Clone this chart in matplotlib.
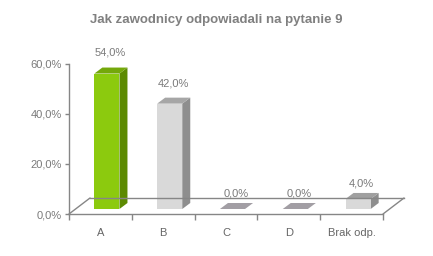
import matplotlib.pyplot as plt
from matplotlib.patches import Polygon
from matplotlib.transforms import Affine2D

plt.rcParams['font.family'] = ['Liberation Sans', 'DejaVu Sans']

categories = ['A', 'B', 'C', 'D', 'Brak odp.']
values = [54.0, 42.0, 0.0, 0.0, 4.0]
value_labels = ['54,0%', '42,0%', '0,0%', '0,0%', '4,0%']
yticks = [0, 20, 40, 60]
ytick_labels = ['0,0%', '20,0%', '40,0%', '60,0%']

# front / side / top colours per bar
face_cols = ['#8cca0e', '#d9d9d9', '#a29ea4', '#a29ea4', '#d9d9d9']
side_cols = ['#5c8a02', '#8e8e8e', '#a29ea4', '#a29ea4', '#8e8e8e']
top_cols = ['#74a80a', '#a6a6a6', '#a29ea4', '#a29ea4', '#a0a0a0']

grey = '#868686'
text_grey = '#7a7a7a'

fig = plt.figure(figsize=(4.33, 2.56), dpi=100)
ax = fig.add_axes([69 / 433, 42 / 256, 314 / 433, 150.5 / 256])
ax.set_xlim(-0.5, 4.5)
ax.set_ylim(0, 60)
ax.patch.set_visible(False)

def shifted(dx, dy):
    return ax.transData + Affine2D().translate(dx, dy)

# floor (3d base)
floor_dx, floor_dy = 21, 16
back = shifted(floor_dx, floor_dy)
ax.plot([-0.5, 4.5], [0, 0], color=grey, lw=1, transform=back, clip_on=False)
for xe in (-0.5, 4.5):
    ax.annotate('', xy=(xe, 0), xycoords=back, xytext=(xe, 0), textcoords='data',
                arrowprops=dict(arrowstyle='-', color=grey, lw=1, shrinkA=0, shrinkB=0))

# bars
half = 0.2
bar_shift = shifted(6.5, 5)
dep_x, dep_y = 8, 6
side_shift = shifted(6.5 + dep_x, 5 + dep_y)
inv = ax.transData.inverted()
for i, v in enumerate(values):
    x0, x1 = i - half, i + half
    f = lambda x, y: bar_shift.transform((x, y))
    b = lambda x, y: side_shift.transform((x, y))
    if v > 0:
        side = [f(x1, 0), b(x1, 0), b(x1, v), f(x1, v)]
        ax.add_patch(Polygon(inv.transform(side), closed=True, fc=side_cols[i], ec='none', clip_on=False))
        front = [f(x0, 0), f(x1, 0), f(x1, v), f(x0, v)]
        ax.add_patch(Polygon(inv.transform(front), closed=True, fc=face_cols[i], ec='none', clip_on=False))
    top = [f(x0, v), f(x1, v), b(x1, v), b(x0, v)]
    ax.add_patch(Polygon(inv.transform(top), closed=True, fc=top_cols[i], ec='none', clip_on=False))
    ax.text(i, v * 1.045, value_labels[i], transform=shifted(10, 20), ha='center', va='center',
            fontsize=8, color=text_grey, clip_on=False)

# axes styling
for s in ('top', 'right'):
    ax.spines[s].set_visible(False)
for s in ('left', 'bottom'):
    ax.spines[s].set_color(grey)
    ax.spines[s].set_linewidth(1)

ax.set_yticks(yticks)
ax.set_yticklabels(ytick_labels)
ax.tick_params(axis='y', direction='out', length=3, width=1, color=grey, labelsize=8,
               labelcolor=text_grey, pad=2)
ax.set_xticks(range(len(categories)))
ax.set_xticklabels(categories)
ax.tick_params(axis='x', which='major', length=0, labelsize=8, labelcolor='#666666', pad=10)
ax.set_xticks([i - 0.5 for i in range(len(categories) + 1)], minor=True)
ax.tick_params(axis='x', which='minor', direction='out', length=4, width=1, color=grey)

fig.text(0.5, 1 - 20 / 256, 'Jak zawodnicy odpowiadali na pytanie 9', ha='center', va='center',
         fontsize=9.5, fontweight='bold', color='#808080')

fig.savefig('out.png', dpi=100)
